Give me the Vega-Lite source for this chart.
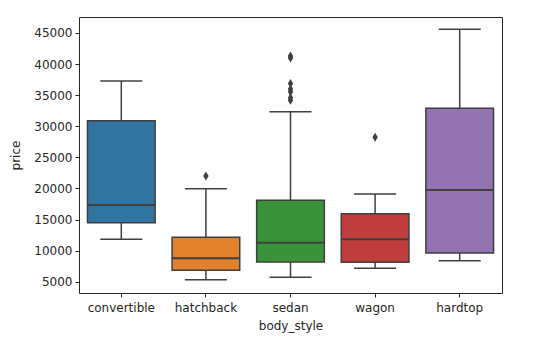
{
  "$schema": "https://vega.github.io/schema/vega-lite/v6.json",
  "width": 423,
  "height": 276,
  "autosize": {"type": "none"},
  "padding": {"left": 79, "top": 17, "right": 57, "bottom": 70},
  "background": "white",
  "config": {
    "view": {"stroke": "#262626", "strokeWidth": 1},
    "font": "DejaVu Sans",
    "axis": {
      "domain": false,
      "grid": false,
      "tickColor": "#262626",
      "tickSize": 4,
      "tickWidth": 1,
      "labelFont": "DejaVu Sans",
      "labelFontSize": 12,
      "labelColor": "#262626",
      "labelPadding": 3,
      "titleFont": "DejaVu Sans",
      "titleFontSize": 12,
      "titleFontWeight": "normal",
      "titleColor": "#262626"
    }
  },
  "datasets": {
    "boxes": [
      {"body_style": "convertible", "lower": 11820, "q1": 14490, "median": 17330, "q3": 30890, "upper": 37280},
      {"body_style": "hatchback", "lower": 5320, "q1": 6830, "median": 8760, "q3": 12140, "upper": 19960},
      {"body_style": "sedan", "lower": 5710, "q1": 8170, "median": 11270, "q3": 18090, "upper": 32340},
      {"body_style": "wagon", "lower": 7160, "q1": 8120, "median": 11820, "q3": 15940, "upper": 19110},
      {"body_style": "hardtop", "lower": 8380, "q1": 9620, "median": 19750, "q3": 32890, "upper": 45600}
    ],
    "outliers": [
      {"body_style": "hatchback", "price": 22000},
      {"body_style": "sedan", "price": 41315},
      {"body_style": "sedan", "price": 40960},
      {"body_style": "sedan", "price": 36880},
      {"body_style": "sedan", "price": 36000},
      {"body_style": "sedan", "price": 35550},
      {"body_style": "sedan", "price": 34600},
      {"body_style": "sedan", "price": 34184},
      {"body_style": "wagon", "price": 28220}
    ]
  },
  "encoding": {
    "x": {
      "field": "body_style",
      "type": "nominal",
      "sort": ["convertible", "hatchback", "sedan", "wagon", "hardtop"],
      "scale": {"paddingInner": 0.2, "paddingOuter": 0.1},
      "axis": {"labelAngle": 0, "labelPadding": 5, "title": "body_style", "titlePadding": 7}
    }
  },
  "layer": [
    {
      "data": {"name": "boxes"},
      "mark": {"type": "rule", "color": "#3f3f3f", "strokeWidth": 1.5},
      "encoding": {
        "y": {
          "field": "lower",
          "type": "quantitative",
          "scale": {"domain": [3183, 47572], "nice": false, "zero": false},
          "axis": {"values": [5000, 10000, 15000, 20000, 25000, 30000, 35000, 40000, 45000], "format": "d", "labelOverlap": false, "title": "price", "titlePadding": 11}
        },
        "y2": {"field": "upper"}
      }
    },
    {
      "data": {"name": "boxes"},
      "mark": {"type": "bar", "stroke": "#3f3f3f", "strokeWidth": 1.5, "opacity": 1},
      "encoding": {
        "y": {"field": "q1", "type": "quantitative", "axis": {"values": [5000, 10000, 15000, 20000, 25000, 30000, 35000, 40000, 45000], "format": "d", "labelOverlap": false, "title": "price", "titlePadding": 11}},
        "y2": {"field": "q3"},
        "color": {
          "field": "body_style",
          "type": "nominal",
          "scale": {
            "domain": ["convertible", "hatchback", "sedan", "wagon", "hardtop"],
            "range": ["#3274a1", "#e1812c", "#3a923a", "#c03d3e", "#9372b2"]
          },
          "legend": null
        }
      }
    },
    {
      "data": {"name": "boxes"},
      "mark": {"type": "tick", "color": "#3f3f3f", "thickness": 2, "size": 68, "opacity": 1},
      "encoding": {"y": {"field": "median", "type": "quantitative", "axis": {"values": [5000, 10000, 15000, 20000, 25000, 30000, 35000, 40000, 45000], "format": "d", "labelOverlap": false, "title": "price", "titlePadding": 11}}}
    },
    {
      "data": {"name": "boxes"},
      "mark": {"type": "tick", "color": "#3f3f3f", "thickness": 1.5, "size": 42, "opacity": 1},
      "encoding": {"y": {"field": "upper", "type": "quantitative", "axis": {"values": [5000, 10000, 15000, 20000, 25000, 30000, 35000, 40000, 45000], "format": "d", "labelOverlap": false, "title": "price", "titlePadding": 11}}}
    },
    {
      "data": {"name": "boxes"},
      "mark": {"type": "tick", "color": "#3f3f3f", "thickness": 1.5, "size": 42, "opacity": 1},
      "encoding": {"y": {"field": "lower", "type": "quantitative", "axis": {"values": [5000, 10000, 15000, 20000, 25000, 30000, 35000, 40000, 45000], "format": "d", "labelOverlap": false, "title": "price", "titlePadding": 11}}}
    },
    {
      "data": {"name": "outliers"},
      "mark": {"type": "point", "shape": "M0,-1L0.6,0L0,1L-0.6,0Z", "filled": true, "color": "#3f3f3f", "size": 81, "opacity": 1},
      "encoding": {"y": {"field": "price", "type": "quantitative", "axis": {"values": [5000, 10000, 15000, 20000, 25000, 30000, 35000, 40000, 45000], "format": "d", "labelOverlap": false, "title": "price", "titlePadding": 11}}}
    }
  ]
}
